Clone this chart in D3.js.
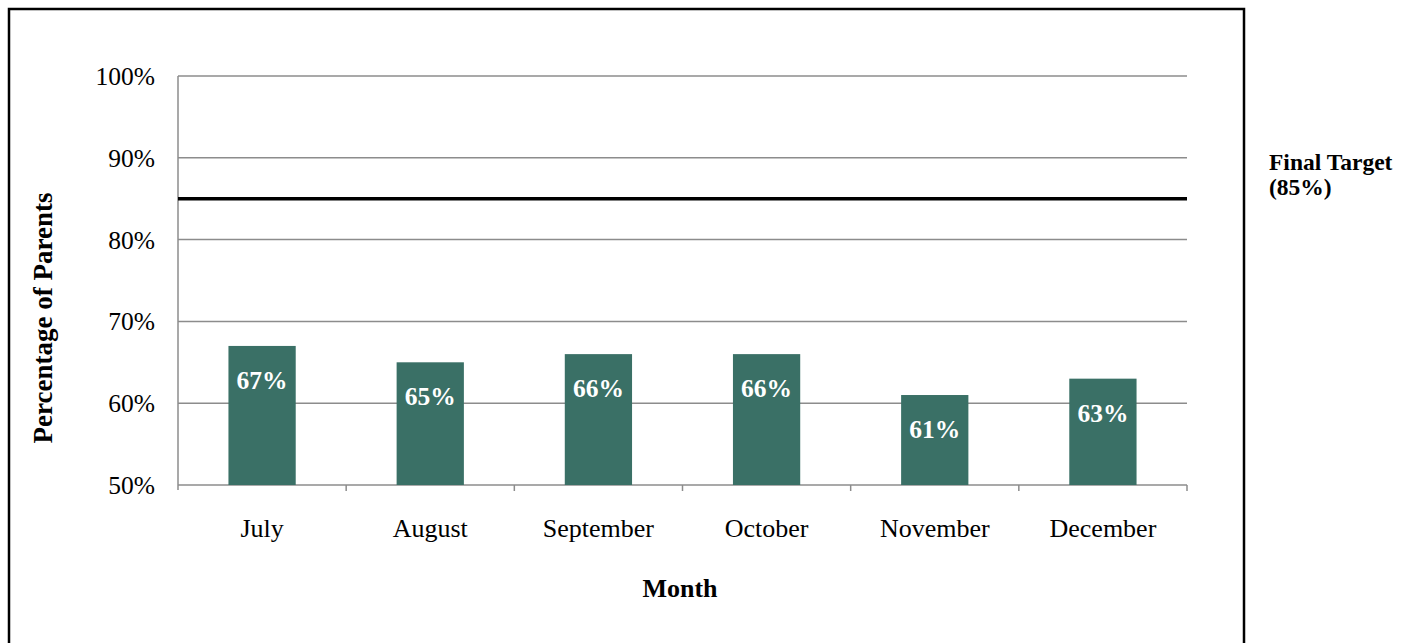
<!DOCTYPE html>
<html>
<head>
<meta charset="utf-8">
<script src="https://cdn.jsdelivr.net/npm/d3@7"></script>
<style>
  body { margin: 0; background: #fff; }
  svg { display: block; font-family: "Liberation Serif", "Times New Roman", serif; }
</style>
</head>
<body>
<script>
const months = ["July", "August", "September", "October", "November", "December"];
const values = [67, 65, 66, 66, 61, 63];
const yTicks = [50, 60, 70, 80, 90, 100];
const target = 85;

const svg = d3.select("body").append("svg")
  .attr("width", 1414).attr("height", 643);

// outer frame (bottom edge runs off the page)
svg.append("rect")
  .attr("x", 9).attr("y", 9).attr("width", 1235).attr("height", 660)
  .attr("fill", "none").attr("stroke", "#000").attr("stroke-width", 2.5);

const plotL = 178, plotR = 1187, plotT = 76, plotB = 485;

const x = d3.scaleBand().domain(months).range([plotL, plotR]).paddingInner(0.6).paddingOuter(0.3);
const xb = d3.scaleBand().domain(months).range([plotL, plotR]);
const y = d3.scaleLinear().domain([50, 100]).range([plotB, plotT]);

// gridlines
svg.append("g").selectAll("line").data(yTicks.slice(1)).join("line")
  .attr("x1", plotL).attr("x2", plotR)
  .attr("y1", d => y(d)).attr("y2", d => y(d))
  .attr("stroke", "#8c8c8c").attr("stroke-width", 1.5);

// y axis line
svg.append("line").attr("x1", plotL).attr("x2", plotL).attr("y1", plotT).attr("y2", plotB + 5)
  .attr("stroke", "#8c8c8c").attr("stroke-width", 1.5);

// x axis with tick marks between categories
svg.append("line").attr("x1", plotL).attr("x2", plotR).attr("y1", plotB).attr("y2", plotB)
  .attr("stroke", "#8c8c8c").attr("stroke-width", 1.5);
svg.append("g").selectAll("line").data(months).join("line")
  .attr("x1", d => xb(d) + xb.bandwidth()).attr("x2", d => xb(d) + xb.bandwidth())
  .attr("y1", plotB).attr("y2", plotB + 6)
  .attr("stroke", "#8c8c8c").attr("stroke-width", 1.5);

// y tick labels
svg.append("g").selectAll("text").data(yTicks).join("text")
  .attr("x", 155).attr("y", d => y(d)).attr("dy", "0.35em")
  .attr("text-anchor", "end").attr("font-size", 25.5)
  .text(d => d + "%");

// bars
svg.append("g").selectAll("rect").data(values).join("rect")
  .attr("x", (d, i) => x(months[i])).attr("width", x.bandwidth())
  .attr("y", d => y(d)).attr("height", d => y(50) - y(d))
  .attr("fill", "#3a7066");

// bar labels
svg.append("g").selectAll("text").data(values).join("text")
  .attr("x", (d, i) => x(months[i]) + x.bandwidth() / 2)
  .attr("y", d => y(d) + 43)
  .attr("text-anchor", "middle").attr("font-size", 25.5).attr("font-weight", "bold")
  .attr("fill", "#fff")
  .text(d => d + "%");

// target line
svg.append("line").attr("x1", plotL).attr("x2", plotR)
  .attr("y1", y(target)).attr("y2", y(target))
  .attr("stroke", "#000").attr("stroke-width", 3.5);

svg.append("text").attr("x", 1269).attr("y", 170)
  .attr("font-size", 23.5).attr("font-weight", "bold")
  .selectAll("tspan").data(["Final Target", "(" + target + "%)"]).join("tspan")
  .attr("x", 1269).attr("dy", (d, i) => i ? 25 : 0)
  .text(d => d);

// category labels
svg.append("g").selectAll("text").data(months).join("text")
  .attr("x", d => xb(d) + xb.bandwidth() / 2).attr("y", 537)
  .attr("text-anchor", "middle").attr("font-size", 26)
  .text(d => d);

// axis titles
svg.append("text").attr("x", 680).attr("y", 597)
  .attr("text-anchor", "middle").attr("font-size", 26).attr("font-weight", "bold")
  .text("Month");

svg.append("text").attr("transform", "translate(52,318) rotate(-90)")
  .attr("text-anchor", "middle").attr("font-size", 27).attr("font-weight", "bold")
  .text("Percentage of Parents");
</script>
</body>
</html>
